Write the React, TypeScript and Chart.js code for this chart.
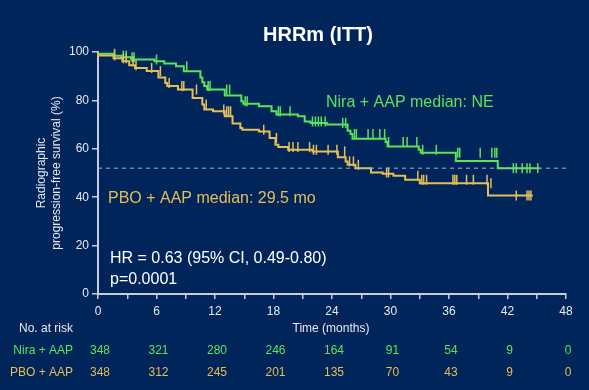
import React, { useEffect, useRef } from "react";
import { Chart, registerables } from "chart.js";

Chart.register(...registerables);

const FONT = "'Liberation Sans', Arial, sans-serif";
const BG = "#00255A";
const GREEN = "#5BE35B";
const GOLD = "#E6BD57";
const AXIS = "#C8CCD8";
const TEXT = "#E8EAF0";

// Kaplan-Meier steps (time in months, survival %)
const niraTimes = [0, 1.6, 2.4, 3.4, 5.8, 6.8, 8.0, 8.8, 10.5, 10.7, 10.9, 11.2, 13.0, 14.7, 14.9, 16.5, 17.8, 18.3, 20.5, 21.2, 21.8, 23.5, 25.6, 25.9, 26.1, 29.5, 29.7, 32.9, 33.1, 36.7, 41.0, 41.1, 45.3];
const niraSurv = [100, 99.3, 98.5, 97.8, 96.9, 96.2, 95.2, 94.1, 92, 89.5, 87.5, 85.9, 84.5, 82, 79.6, 78.6, 77.6, 75.5, 74.2, 73.4, 71.3, 70.7, 70.0, 67.5, 66.1, 64.2, 62.8, 61, 59.6, 58.4, 55, 52, 52];

const pboTimes = [0, 1.6, 2.5, 3.2, 3.8, 5.0, 6.2, 6.9, 7.1, 8.2, 9.7, 10.7, 10.9, 11.8, 13.0, 13.8, 14.6, 14.8, 16.5, 17.6, 18.2, 18.5, 19.5, 22.0, 24.6, 25.4, 25.6, 26.4, 28.0, 29.2, 30.3, 31.5, 33.0, 40.0, 41.0, 44.6];
const pboSurv = [100, 98.6, 97.4, 96.2, 94.5, 93.4, 92.1, 89.5, 87.2, 85.9, 84.5, 81, 78.3, 76.2, 75.5, 73.4, 70.5, 68.6, 67.9, 67.2, 64.5, 61.7, 60.7, 59.6, 58.9, 56.5, 54.8, 53.4, 52, 50.2, 49.7, 48.9, 47.2, 45.8, 40.7, 40.7];

// censoring times
const niraCensor = [1.7, 2.6, 2.9, 3.5, 3.7, 6.0, 9.1, 11.3, 11.5, 13.2, 13.5, 15.1, 15.3, 18.5, 18.7, 19.7, 22.0, 22.3, 22.6, 22.9, 23.3, 25.1, 25.4, 26.3, 26.5, 27.7, 28.2, 28.9, 29.4, 29.8, 31.3, 31.7, 32.7, 33.3, 34.7, 36.9, 37.1, 39.2, 40.4, 40.7, 40.9, 42.6, 42.9, 43.5, 44.0, 44.3, 45.1];
const pboCensor = [1.7, 2.6, 2.9, 3.6, 3.9, 5.5, 6.4, 7.3, 8.6, 8.8, 10.1, 11.1, 12.9, 13.2, 13.4, 13.6, 17.0, 18.3, 19.6, 20.0, 20.5, 21.7, 22.1, 22.4, 23.6, 24.5, 25.3, 25.8, 26.2, 26.7, 29.6, 29.8, 32.8, 33.2, 33.4, 33.7, 36.4, 36.6, 36.8, 37.8, 38.5, 39.9, 40.3, 42.9, 44.0, 44.2, 44.4];

const refLineY = 52;

const riskMonths = [0, 6, 12, 18, 24, 30, 36, 42, 48];
const riskNira = [348, 321, 280, 246, 164, 91, 54, 9, 0];
const riskPbo = [348, 312, 245, 201, 135, 70, 43, 9, 0];

const title = "HRRm (ITT)";
const yTitle = ["Radiographic", "progression-free survival (%)"];
const xTitle = "Time (months)";
const niraLabel = "Nira + AAP";
const pboLabel = "PBO + AAP";
const niraMedian = "Nira + AAP median: NE";
const pboMedian = "PBO + AAP median: 29.5 mo";
const hrText = "HR = 0.63 (95% CI, 0.49-0.80)";
const pText = "p=0.0001";

function survAt(times: number[], surv: number[], t: number) {
  let v = surv[0];
  for (let i = 0; i < times.length; i++) {
    if (times[i] <= t) v = surv[i];
  }
  return v;
}

const overlay = {
  id: "overlay",
  afterDraw(chart: any) {
    const ctx = chart.ctx;
    const xs = chart.scales.x;
    ctx.save();
    ctx.textBaseline = "middle";
    // title
    ctx.fillStyle = "#FFFFFF";
    ctx.font = `bold 20px ${FONT}`;
    ctx.textAlign = "center";
    ctx.fillText(title, 318, 35);
    // y title
    ctx.save();
    ctx.translate(42, 173);
    ctx.rotate(-Math.PI / 2);
    ctx.fillStyle = TEXT;
    ctx.font = `12px ${FONT}`;
    ctx.fillText(yTitle[0], 0, 0);
    ctx.fillText(yTitle[1], 0, 15);
    ctx.restore();
    // x title
    ctx.fillStyle = TEXT;
    ctx.font = `12px ${FONT}`;
    ctx.textAlign = "center";
    ctx.fillText(xTitle, 331, 329);
    // risk table
    ctx.textAlign = "right";
    ctx.fillText("No. at risk", 73, 329);
    ctx.fillStyle = GREEN;
    ctx.fillText(niraLabel, 73, 351);
    ctx.fillStyle = GOLD;
    ctx.fillText(pboLabel, 73, 373);
    ctx.textAlign = "center";
    riskMonths.forEach((m, i) => {
      const px = xs.getPixelForValue(m) + 2;
      ctx.fillStyle = GREEN;
      ctx.fillText(String(riskNira[i]), px, 351);
      ctx.fillStyle = GOLD;
      ctx.fillText(String(riskPbo[i]), px, 373);
    });
    // annotations
    ctx.font = `16px ${FONT}`;
    ctx.textAlign = "left";
    ctx.fillStyle = GREEN;
    ctx.fillText(niraMedian, 326, 103);
    ctx.fillStyle = GOLD;
    ctx.fillText(pboMedian, 108, 199);
    ctx.fillStyle = "#FFFFFF";
    ctx.fillText(hrText, 110, 259);
    ctx.fillText(pText, 110, 280);
    ctx.restore();
  },
};

export default function App() {
  const ref = useRef<HTMLCanvasElement | null>(null);
  useEffect(() => {
    if (!ref.current) return;
    const niraLine = niraTimes.map((t, i) => ({ x: t, y: niraSurv[i] }));
    const pboLine = pboTimes.map((t, i) => ({ x: t, y: pboSurv[i] }));
    const niraMarks = niraCensor.map((t) => ({ x: t, y: survAt(niraTimes, niraSurv, t) }));
    const pboMarks = pboCensor.map((t) => ({ x: t, y: survAt(pboTimes, pboSurv, t) }));
    const chart = new Chart(ref.current, {
      type: "line",
      data: {
        datasets: [
          {
            data: [{ x: 0, y: refLineY }, { x: 48, y: refLineY }],
            borderColor: "#A8B4CC",
            borderDash: [4, 4],
            borderWidth: 1,
            pointRadius: 0,
          },
          {
            data: pboLine,
            stepped: "after",
            borderColor: GOLD,
            borderWidth: 2,
            pointRadius: 0,
          },
          {
            data: pboMarks,
            showLine: false,
            pointStyle: "line",
            rotation: 90,
            pointRadius: 5,
            borderColor: GOLD,
            borderWidth: 1.5,
          },
          {
            data: niraLine,
            stepped: "after",
            borderColor: GREEN,
            borderWidth: 2,
            pointRadius: 0,
          },
          {
            data: niraMarks,
            showLine: false,
            pointStyle: "line",
            rotation: 90,
            pointRadius: 5,
            borderColor: GREEN,
            borderWidth: 1.5,
          },
        ] as any,
      },
      options: {
        responsive: false,
        animation: false,
        devicePixelRatio: 1,
        clip: false as any,
        layout: { padding: { top: 52, right: 23, left: 0, bottom: 0 } },
        plugins: { legend: { display: false }, tooltip: { enabled: false }, title: { display: false } },
        scales: {
          x: {
            type: "linear",
            min: 0,
            max: 48,
            ticks: {
              stepSize: 3,
              autoSkip: false,
              maxRotation: 0,
              padding: 5,
              color: TEXT,
              font: { family: FONT, size: 12 },
              callback: (v: any) => (Number(v) % 6 === 0 ? String(v) : ""),
            },
            grid: { drawOnChartArea: false, color: AXIS, tickLength: 5, lineWidth: 1.5 },
            border: { color: AXIS, width: 2 },
            afterFit: (s: any) => {
              s.height = 96;
            },
          },
          y: {
            type: "linear",
            min: 0,
            max: 100,
            ticks: {
              stepSize: 20,
              padding: 3,
              color: TEXT,
              font: { family: FONT, size: 12 },
            },
            grid: { drawOnChartArea: false, color: AXIS, tickLength: 6, lineWidth: 1.5 },
            border: { color: AXIS, width: 2 },
            afterFit: (s: any) => {
              s.width = 98;
            },
          },
        },
      } as any,
      plugins: [overlay],
    });
    return () => chart.destroy();
  }, []);
  return (
    <div style={{ position: "fixed", left: 0, top: 0, width: 589, height: 390, background: BG }}>
      <canvas ref={ref} width={589} height={390} style={{ width: 589, height: 390, display: "block" }} />
    </div>
  );
}
